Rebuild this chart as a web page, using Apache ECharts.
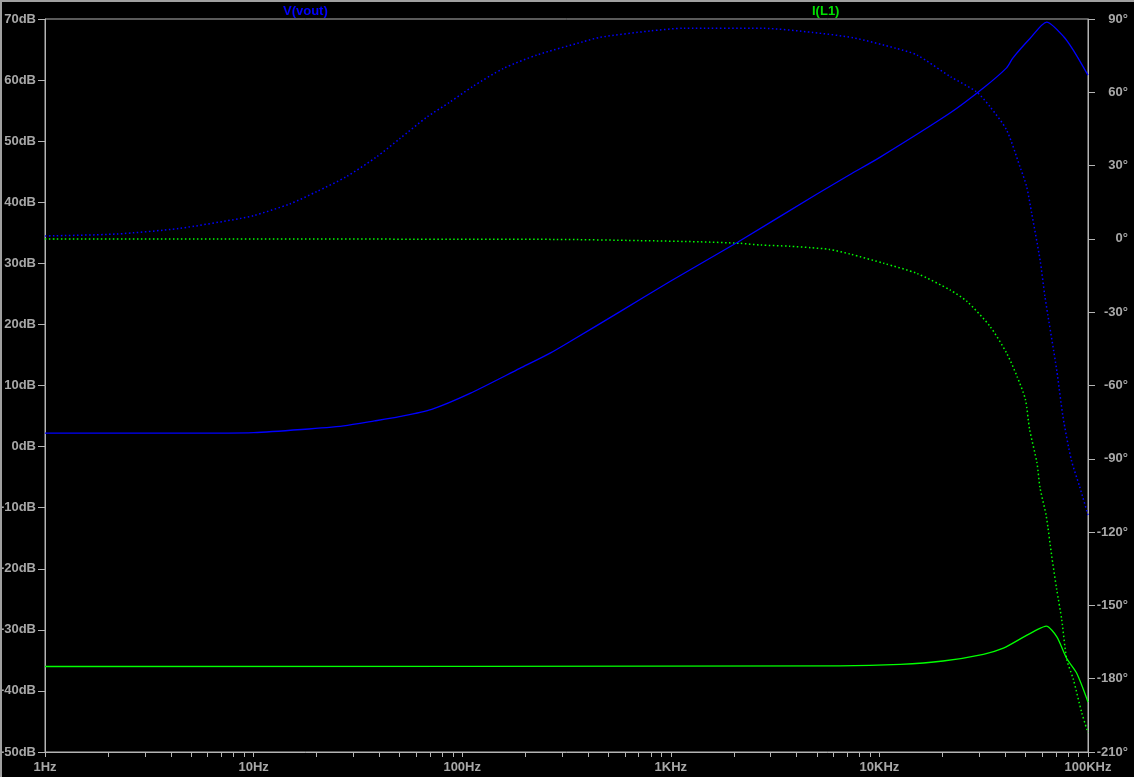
<!DOCTYPE html>
<html>
<head>
<meta charset="utf-8">
<script src="https://cdn.jsdelivr.net/npm/echarts@6/dist/echarts.min.js"></script>
<style>
html,body{margin:0;padding:0;background:#000;}
#c{width:1134px;height:777px;}
</style>
</head>
<body>
<div id="c"></div>
<script>
// ---- data (frequency in Hz) ----
const freqLabels = ['1Hz', '10Hz', '100Hz', '1KHz', '10KHz', '100KHz'];
const dbTicks = { min: -50, max: 70, step: 10 };
const degTicks = { min: -210, max: 90, step: 30 };

// V(vout) magnitude (dB)
const vMagFreq = [1, 5, 10, 17, 27, 38, 50, 71.4, 109, 189, 264, 329, 571, 1000, 2100, 5000, 7200, 10000, 21800, 31500, 40700, 43600, 52700, 63400, 76500, 85000, 100000];
const vMagDb   = [2.2, 2.2, 2.3, 2.8, 3.4, 4.2, 4.9, 6.1, 8.7, 12.8, 15.3, 17.2, 22.1, 27.1, 33.5, 41.3, 44.5, 47.3, 54.6, 58.7, 62.0, 63.6, 66.8, 69.5, 67.1, 64.9, 60.8];

// V(vout) phase (deg)
const vPhFreq = [1, 2.2, 4.4, 8.7, 10, 14.9, 20, 27.9, 38.9, 50, 67.6, 87, 112, 158, 229, 380, 457, 794, 1150, 2750, 4790, 7500, 12000, 15100, 21900, 29200, 33900, 40700, 47200, 50800, 53700, 58900, 62200, 70800, 75900, 83200, 91200, 100000];
const vPhDeg  = [1.2, 2.0, 4.3, 8.4, 9.5, 14.3, 19.3, 25.5, 33.6, 40.9, 49.8, 55.9, 62.3, 69.8, 75.3, 80.7, 82.5, 85.1, 86.2, 86.2, 84.5, 82.3, 78.0, 75.3, 66.4, 60.2, 54.1, 44.6, 29.5, 21.4, 10.5, -8.6, -23.7, -53.7, -72.8, -90.5, -101.4, -113];

// I(L1) magnitude (dB)
const iMagFreq = [1, 6460, 12600, 20200, 31500, 39300, 49000, 56800, 63100, 70800, 79100, 88300, 100000];
const iMagDb   = [-36.0, -35.9, -35.65, -35.1, -34.0, -33.0, -31.2, -30.0, -29.4, -31.1, -34.7, -37.1, -41.8];

// I(L1) phase (deg)
const iPhFreq = [1, 278, 708, 1380, 2140, 2690, 3720, 4680, 5750, 7240, 10500, 15100, 21900, 26300, 33900, 40700, 45700, 50100, 52500, 56900, 58900, 63100, 67000, 70800, 74800, 79100, 85100, 93300, 100000];
const iPhDeg  = [0.0, -0.2, -0.7, -1.2, -1.8, -2.5, -3.0, -3.6, -4.3, -6.2, -10.0, -14.1, -21.0, -25.6, -35.8, -46.7, -56.3, -65.7, -78.0, -91.6, -101.9, -113.5, -129.8, -143.5, -155.7, -172.1, -180.3, -193.9, -202.1];

// minor log ticks on the frequency axis
const minorTicks = [];
for (let d = 1; d < 100000; d *= 10) for (let k = 2; k <= 9; k++) minorTicks.push(d * k);

// ---- chart ----
const pair = (xs, ys) => xs.map((x, i) => [x, ys[i]]);
const BLUE = '#0000ff', GREEN = '#00ff00';
const AX = '#b4b4b4', TXT = '#a8a8a8';
const FONT = 'Liberation Sans, Arial, sans-serif';

const chart = echarts.init(document.getElementById('c'), null, { renderer: 'canvas' });
chart.setOption({
  backgroundColor: '#000',
  animation: false,
  grid: { left: 45, right: 46, top: 19, bottom: 25, containLabel: false, outerBoundsMode: 'none',
          show: true, borderColor: AX, borderWidth: 1, backgroundColor: '#000' },
  xAxis: {
    type: 'log', logBase: 10, min: 1, max: 100000,
    axisLine: { onZero: false, lineStyle: { color: AX } },
    axisTick: { show: true, length: 5, lineStyle: { color: AX } },
    splitLine: { show: false },
    axisLabel: {
      color: TXT, fontFamily: FONT, fontWeight: 'bold', fontSize: 13, margin: 9,
      formatter: v => freqLabels[Math.round(Math.log10(v))] || ''
    }
  },
  yAxis: [
    {
      type: 'value', min: dbTicks.min, max: dbTicks.max, interval: dbTicks.step, position: 'left',
      axisLine: { show: true, onZero: false, lineStyle: { color: AX } },
      axisTick: { show: true, length: 7, lineStyle: { color: AX } },
      splitLine: { show: false },
      axisLabel: { color: TXT, fontFamily: FONT, fontWeight: 'bold', fontSize: 13, margin: 9, formatter: v => v + 'dB' }
    },
    {
      type: 'value', min: degTicks.min, max: degTicks.max, interval: degTicks.step, position: 'right',
      axisLine: { show: true, onZero: false, lineStyle: { color: AX } },
      axisTick: { show: true, length: 7, lineStyle: { color: AX } },
      splitLine: { show: false },
      axisLabel: { color: TXT, fontFamily: FONT, fontWeight: 'bold', fontSize: 13, margin: 40, align: 'right', formatter: v => v + '°' }
    }
  ],
  graphic: [
    { type: 'rect', left: 0, top: 0, shape: { width: 2, height: 777 }, style: { fill: '#a0a0a0' }, z: 100 },
    { type: 'rect', left: 0, top: 0, shape: { width: 1134, height: 2 }, style: { fill: '#a0a0a0' }, z: 100 },
    { type: 'text', x: 283, y: 11, style: { text: 'V(vout)', fill: BLUE, font: 'bold 13px ' + FONT, align: 'left', verticalAlign: 'middle', textAlign: 'left', textVerticalAlign: 'middle' } },
    { type: 'text', x: 812, y: 11, style: { text: 'I(L1)', fill: '#00e000', font: 'bold 13px ' + FONT, align: 'left', verticalAlign: 'middle', textAlign: 'left', textVerticalAlign: 'middle' } }
  ],
  series: [
    {
      name: 'V(vout) phase', type: 'line', yAxisIndex: 1, data: pair(vPhFreq, vPhDeg),
      showSymbol: false, smooth: 0.25, lineStyle: { color: BLUE, width: 1.5, type: [1.5, 2.5] }
    },
    {
      name: 'I(L1) phase', type: 'line', yAxisIndex: 1, data: pair(iPhFreq, iPhDeg),
      showSymbol: false, smooth: 0.25, lineStyle: { color: GREEN, width: 1.5, type: [1.5, 2.5] }
    },
    {
      name: 'V(vout)', type: 'line', yAxisIndex: 0, data: pair(vMagFreq, vMagDb),
      showSymbol: false, smooth: 0.25, lineStyle: { color: BLUE, width: 1.3 }
    },
    {
      name: 'I(L1)', type: 'line', yAxisIndex: 0, data: pair(iMagFreq, iMagDb),
      showSymbol: false, smooth: 0.25, lineStyle: { color: GREEN, width: 1.3 }
    },
    {
      name: 'minorTicks', type: 'custom', yAxisIndex: 0, silent: true, clip: false,
      data: minorTicks.map(f => [f, 0]),
      encode: { x: 0, y: 1 },
      renderItem: (params, api) => {
        const cs = params.coordSys;
        const x = Math.round(api.coord([api.value(0), 0])[0]) + 0.5;
        const y = cs.y + cs.height;
        return { type: 'line', shape: { x1: x, y1: y, x2: x, y2: y + 5 }, style: { stroke: AX, lineWidth: 1 } };
      }
    }
  ]
});
</script>
</body>
</html>
